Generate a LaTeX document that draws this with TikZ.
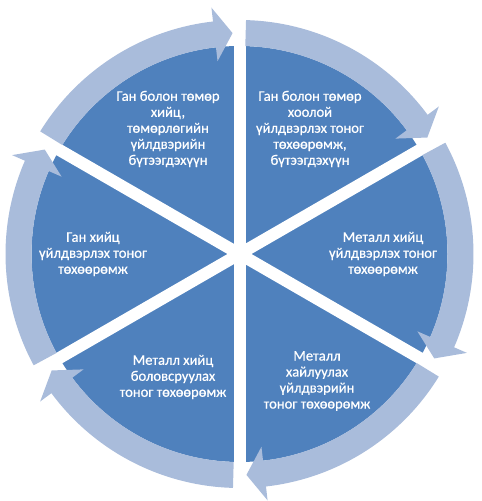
\documentclass[tikz,border=0pt]{standalone}
\usepackage{fontspec}
\setmainfont{Carlito}[FakeBold=0.5]
\definecolor{pieblue}{HTML}{4F81BD}
\definecolor{ringblue}{HTML}{A9BCDB}
\begin{document}
\begin{tikzpicture}[x=1pt,y=1pt,
  lbl/.style={text=white, align=center, inner sep=0pt,
    font=\fontsize{14.6}{16}\selectfont},
  gapline/.style={draw=white, line width=12pt},
  ringarrow/.style={fill=ringblue}]
\useasboundingbox (0,0) rectangle (482,501);
\begin{scope}[shift={(239.5,247)}]
  \coordinate (c) at (0,0);
  % pie
  \fill[pieblue] (c) circle[radius=208];
  \draw[gapline] (90:214) -- (270:214);
  \draw[gapline] (30:214) -- (210:214);
  \draw[gapline] (-30:214) -- (150:214);
  % ring arrows, clockwise
  \foreach \A in {150,90,30,-30,-90,-150}{
    \pgfmathsetmacro{\s}{\A-1.6}
    \pgfmathsetmacro{\t}{\A-60+1.8}
    \pgfmathsetmacro{\b}{\A-60+6.5}
    \fill[ringarrow] (\s:208) -- (\s:234)
      arc[start angle=\s, end angle=\b, radius=234]
      -- (\b:248) -- (\t:221) -- (\b:194) -- (\b:208)
      arc[start angle=\b, end angle=\s, radius=208] -- cycle;
  }
\end{scope}
\node[lbl] (tl) at (168,372) {Ган болон төмөр\\хийц,\\төмөрлөгийн\\үйлдвэрийн\\бүтээгдэхүүн};
\node[lbl] (tr) at (310,372) {Ган болон төмөр\\хоолой\\үйлдвэрлэх тоног\\төхөөрөмж,\\бүтээгдэхүүн};
\node[lbl] (r) at (383,247) {Металл хийц\\үйлдвэрлэх тоног\\төхөөрөмж};
\node[lbl] (br) at (317,120) {Металл\\хайлуулах\\үйлдвэрийн\\тоног төхөөрөмж};
\node[lbl] (bl) at (173,124) {Металл хийц\\боловсруулах\\тоног төхөөрөмж};
\node[lbl] (l) at (93,247) {Ган хийц\\үйлдвэрлэх тоног\\төхөөрөмж};
\end{tikzpicture}
\end{document}
